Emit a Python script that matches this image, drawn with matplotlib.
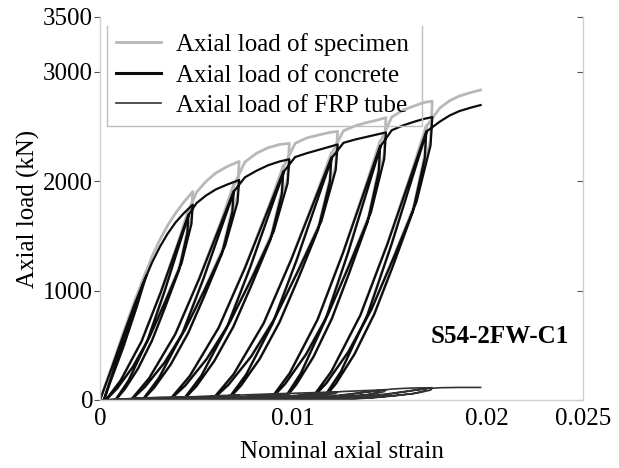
import numpy as np
import matplotlib
matplotlib.use("Agg")
import matplotlib.pyplot as plt
from matplotlib.lines import Line2D

plt.rcParams['font.family'] = ['Liberation Serif', 'DejaVu Serif']

# Dades llegides de la figura: deformacio axial nominal i carregues (kN)
# Tram inicial (carrega monotona + petit cicle inicial)
strain_pre = [0, 0.0006, 0.0012, 0.0018, 0.0024, 0.0019, 0.0012, 0.0005, 0.0002, 0.0008, 0.0015, 0.0022, 0.0027, 0.0031, 0.0035, 0.0039, 0.0043]
concrete_pre = [0, 290, 590, 880, 1140, 850, 480, 150, 0, 330, 680, 1050, 1260, 1400, 1520, 1620, 1700]
specimen_pre = [0, 300, 610, 910, 1180, 870, 490, 152, 0, 335, 695, 1085, 1315, 1465, 1595, 1705, 1800]
frp_pre = [0, 5, 10, 15, 20, 12, 6, 2, 0, 4, 10, 18, 22, 25, 27, 28, 29]

# Cicle 1 (descarrega, recarrega, descarrega, recarrega, envolupant)
strain_c1 = [0.0048, 0.00473, 0.00422, 0.00336, 0.00255, 0.00170, 0.00089, 0.0003,
             0.00107, 0.00215, 0.00314, 0.00404, 0.00458,
             0.00452, 0.00409, 0.00337, 0.00269, 0.00197, 0.00129, 0.0008,
             0.00148, 0.00244, 0.00332, 0.00412, 0.0046,
             0.0050, 0.0055, 0.0060, 0.0066]
concrete_c1 = [1785, 1607, 1250, 893, 571, 303, 107, 0,
               179, 536, 982, 1428, 1696,
               1526, 1187, 848, 543, 288, 102, 0,
               179, 536, 982, 1428, 1696,
               1800, 1870, 1925, 1970]
specimen_c1 = [1905, 1649, 1264, 899, 573, 304, 107, 0,
               179, 537, 986, 1440, 1738,
               1550, 1194, 852, 544, 288, 102, 0,
               179, 537, 986, 1440, 1738,
               1900, 2000, 2075, 2135]
frp_c1 = [30, 24, 17, 11, 6, 3, 1, 0,
          2, 8, 15, 23, 28,
          23, 16, 10, 6, 3, 1, 0,
          2, 8, 15, 23, 28,
          31, 35, 39, 42]

# Cicle 2
strain_c2 = [0.0072, 0.00712, 0.00647, 0.00541, 0.0044, 0.00334, 0.00233, 0.0016,
             0.00255, 0.0039, 0.00513, 0.00625, 0.00692,
             0.00685, 0.00631, 0.00541, 0.00456, 0.00366, 0.00281, 0.0022,
             0.00305, 0.00425, 0.00535, 0.00635, 0.00695,
             0.0075, 0.0081, 0.0087, 0.0093]
concrete_c2 = [2010, 1809, 1407, 1005, 643, 342, 121, 0,
               201, 603, 1106, 1608, 1910,
               1719, 1337, 955, 611, 325, 115, 0,
               201, 603, 1106, 1608, 1910,
               2035, 2095, 2145, 2180]
specimen_c2 = [2180, 1869, 1427, 1014, 646, 344, 121, 0,
               201, 605, 1111, 1625, 1970,
               1753, 1347, 960, 613, 325, 115, 0,
               201, 605, 1111, 1625, 1970,
               2175, 2255, 2305, 2335]
frp_c2 = [45, 36, 25, 16, 9, 5, 1, 0,
          4, 11, 23, 35, 42,
          34, 23, 15, 9, 4, 1, 0,
          4, 11, 23, 35, 42,
          47, 51, 55, 58]

# Cicle 3
strain_c3 = [0.0098, 0.00971, 0.00899, 0.00782, 0.0067, 0.00552, 0.00441, 0.0036,
             0.00465, 0.00614, 0.00751, 0.00875, 0.00949,
             0.00941, 0.00882, 0.00783, 0.0069, 0.00591, 0.00498, 0.0043,
             0.00524, 0.00656, 0.00777, 0.00887, 0.00953,
             0.0101, 0.0107, 0.0114, 0.0119]
concrete_c3 = [2200, 1980, 1540, 1100, 704, 374, 132, 0,
               220, 660, 1210, 1760, 2090,
               1881, 1463, 1045, 669, 355, 125, 0,
               220, 660, 1210, 1760, 2090,
               2220, 2255, 2290, 2315]
specimen_c3 = [2345, 2031, 1557, 1107, 707, 375, 132, 0,
               220, 661, 1214, 1775, 2141,
               1910, 1472, 1049, 670, 355, 125, 0,
               220, 661, 1214, 1775, 2141,
               2345, 2395, 2425, 2445]
frp_c3 = [60, 48, 33, 21, 12, 6, 2, 0,
          5, 15, 30, 47, 56,
          45, 31, 20, 11, 5, 2, 0,
          5, 15, 30, 47, 56,
          62, 65, 68, 72]

# Cicle 4
strain_c4 = [0.0123, 0.0122, 0.01146, 0.01022, 0.00905, 0.00782, 0.00665, 0.0058,
             0.00691, 0.00847, 0.0099, 0.0112, 0.01198,
             0.0119, 0.01128, 0.01026, 0.00929, 0.00827, 0.0073, 0.0066,
             0.00757, 0.00894, 0.01019, 0.01133, 0.01202,
             0.0126, 0.0132, 0.0138, 0.0143]
concrete_c4 = [2335, 2102, 1635, 1168, 747, 397, 140, 0,
               234, 701, 1284, 1868, 2218,
               1996, 1553, 1109, 710, 377, 133, 0,
               234, 701, 1284, 1868, 2218,
               2350, 2380, 2405, 2425]
specimen_c4 = [2455, 2144, 1649, 1174, 749, 398, 140, 0,
               234, 702, 1288, 1880, 2260,
               2020, 1560, 1113, 711, 377, 133, 0,
               234, 702, 1288, 1880, 2260,
               2460, 2505, 2535, 2555]
frp_c4 = [75, 60, 41, 26, 15, 8, 2, 0,
          6, 19, 38, 59, 70,
          56, 39, 25, 14, 7, 2, 0,
          6, 19, 38, 59, 70,
          78, 82, 86, 90]

# Cicle 5
strain_c5 = [0.0148, 0.01471, 0.01402, 0.01288, 0.0118, 0.01066, 0.00958, 0.0088,
             0.00982, 0.01126, 0.01258, 0.01378, 0.0145,
             0.01443, 0.01385, 0.0129, 0.012, 0.01105, 0.01015, 0.0095,
             0.0104, 0.01167, 0.01284, 0.0139, 0.01454,
             0.0151, 0.0157, 0.0163, 0.0168]
concrete_c5 = [2445, 2201, 1712, 1223, 782, 416, 147, 0,
               245, 734, 1345, 1956, 2323,
               2091, 1626, 1162, 743, 395, 139, 0,
               245, 734, 1345, 1956, 2323,
               2465, 2510, 2545, 2570]
specimen_c5 = [2580, 2248, 1728, 1230, 785, 417, 147, 0,
               245, 735, 1349, 1970, 2370,
               2118, 1634, 1166, 744, 395, 139, 0,
               245, 735, 1349, 1970, 2370,
               2585, 2650, 2690, 2720]
frp_c5 = [95, 76, 52, 33, 19, 10, 3, 0,
          8, 24, 48, 74, 88,
          71, 49, 31, 18, 9, 3, 0,
          8, 24, 48, 74, 88,
          100, 106, 110, 111]

# Cicle 6 i tram final
strain_c6 = [0.0172, 0.01711, 0.01638, 0.01518, 0.01405, 0.01285, 0.01172, 0.0109,
             0.01197, 0.01348, 0.01487, 0.01613, 0.01689,
             0.01681, 0.01619, 0.01517, 0.0142, 0.01317, 0.0122, 0.0115,
             0.01247, 0.01384, 0.01509, 0.01623, 0.01692,
             0.0176, 0.0181, 0.0186, 0.0192, 0.0197]
concrete_c6 = [2585, 2327, 1810, 1293, 827, 439, 155, 0,
               259, 776, 1422, 2068, 2456,
               2210, 1719, 1228, 786, 418, 147, 0,
               259, 776, 1422, 2068, 2456,
               2545, 2600, 2640, 2672, 2695]
specimen_c6 = [2730, 2378, 1827, 1300, 830, 440, 155, 0,
               259, 777, 1426, 2083, 2507,
               2239, 1728, 1232, 787, 418, 147, 0,
               259, 777, 1426, 2083, 2507,
               2670, 2735, 2778, 2810, 2833]
frp_c6 = [112, 90, 62, 39, 22, 11, 3, 0,
          9, 28, 56, 87, 104,
          84, 58, 37, 21, 10, 3, 0,
          9, 28, 56, 87, 104,
          112, 114, 115, 115, 115]

x_ticks = [0, 0.01, 0.02, 0.025]
x_ticklabels = ["0", "0.01", "0.02", "0.025"]
y_ticks = [0, 1000, 2000, 3000, 3500]

# S'ajunten els trams en una sola corba
strain = np.concatenate([strain_pre, strain_c1, strain_c2, strain_c3, strain_c4, strain_c5, strain_c6])
concrete = np.concatenate([concrete_pre, concrete_c1, concrete_c2, concrete_c3, concrete_c4, concrete_c5, concrete_c6])
specimen = np.concatenate([specimen_pre, specimen_c1, specimen_c2, specimen_c3, specimen_c4, specimen_c5, specimen_c6])
frp = np.concatenate([frp_pre, frp_c1, frp_c2, frp_c3, frp_c4, frp_c5, frp_c6])

fig = plt.figure(figsize=(6.19, 4.68), dpi=100)
ax = fig.add_axes([0.1616, 0.1453, 0.7802, 0.8184])

ax.plot(strain, specimen, color="#b8b8b8", linewidth=2.0, label="Axial load of specimen")
ax.plot(strain, concrete, color="#0d0d0d", linewidth=1.6, label="Axial load of concrete")
ax.plot(strain, frp, color="#333333", linewidth=1.2, label="Axial load of FRP tube")

ax.set_xlim(0, 0.025)
ax.set_ylim(0, 3500)
ax.set_xticks(x_ticks)
ax.set_xticklabels(x_ticklabels)
ax.set_yticks(y_ticks)

ax.spines['top'].set_visible(False)
for s in ['left', 'right', 'bottom']:
    ax.spines[s].set_color("#cfcfcf")
    ax.spines[s].set_linewidth(1.0)
ax.tick_params(axis='y', direction='out', length=4, color="#555555", labelsize=18, pad=1, right=True)
ax.tick_params(axis='x', length=0, labelsize=18, pad=6)
for t in ax.yaxis.get_major_ticks():
    t.tick2line.set_marker(0)

ax.set_xlabel("Nominal axial strain", fontsize=18, labelpad=8)
ax.set_ylabel("Axial load (kN)", fontsize=18, labelpad=2)

ax.text(0.0207, 578, "S54-2FW-C1", fontsize=18, fontweight='bold', ha='center', va='center')

leg = ax.legend(loc='upper left', bbox_to_anchor=(0.18, 0.94), bbox_transform=fig.transFigure,
                frameon=False, fontsize=18, handlelength=1.8, handletextpad=0.6,
                labelspacing=0.32, borderaxespad=0, borderpad=0.2)
leg.legend_handles[0].set_linewidth(2.0)
leg.legend_handles[1].set_linewidth(2.2)
leg.legend_handles[2].set_linewidth(1.2)

# Marc de la llegenda (sense vora superior)
fig.add_artist(Line2D([0.1729, 0.1729, 0.6818, 0.6818], [0.9444, 0.7308, 0.7308, 0.9444],
                      transform=fig.transFigure, color="#bdbdbd", linewidth=1.0))

fig.savefig("out.png", dpi=100)
